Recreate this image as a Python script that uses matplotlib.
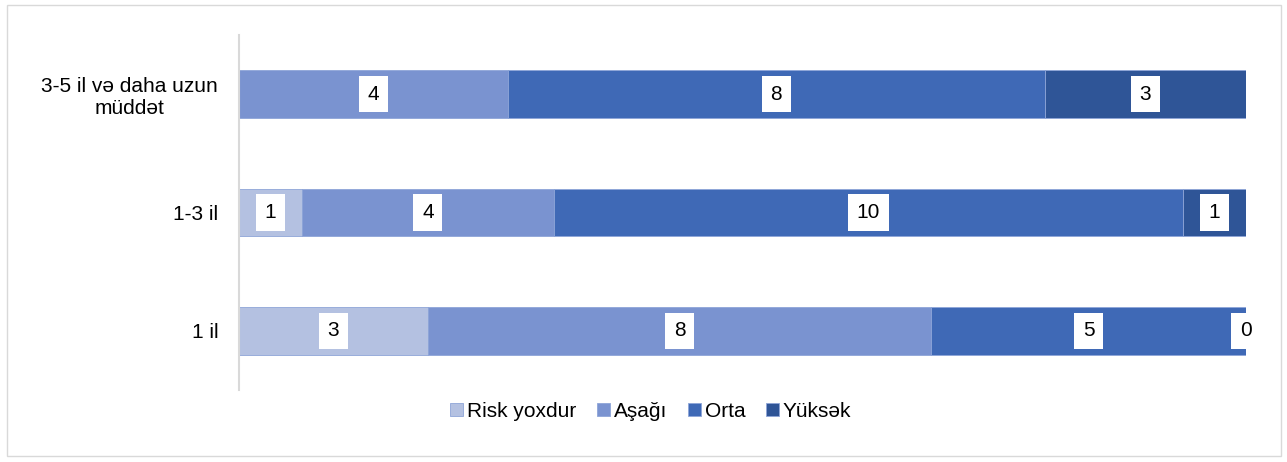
import matplotlib.pyplot as plt
from matplotlib.patches import Rectangle

categories = ["1 il", "1-3 il", "3-5 il və daha uzun\nmüddət"]
series = ["Risk yoxdur", "Aşağı", "Orta", "Yüksək"]
values = {
    "Risk yoxdur": [3, 1, 0],
    "Aşağı": [8, 4, 4],
    "Orta": [5, 10, 8],
    "Yüksək": [0, 1, 3],
}
colors = ["#B4C1E1", "#7A93D0", "#3F69B6", "#2F5597"]

plt.rcParams["font.family"] = ["Liberation Sans", "DejaVu Sans"]

fig = plt.figure(figsize=(12.87, 4.62), dpi=100)
ax = fig.add_axes([0.1857, 0.1558, 0.7825, 0.7684])

# light frame round the whole chart
fig.patches.append(Rectangle((0.0055, 0.012), 0.99, 0.977, transform=fig.transFigure,
                             fill=False, edgecolor="#D9D9D9", linewidth=1))

# 100% stacked: each row scaled to its own total
totals = [sum(values[s][i] for s in series) for i in range(len(categories))]

y = list(range(len(categories)))
left = [0.0] * len(categories)
for name, color in zip(series, colors):
    vals = values[name]
    shares = [100 * v / t for v, t in zip(vals, totals)]
    ax.barh(y, shares, left=left, height=0.405, color=color,
            edgecolor="#8EA5D8", linewidth=0.6, label=name)
    for i, v in enumerate(vals):
        if name == "Risk yoxdur" and v == 0:
            continue
        ax.text(left[i] + shares[i] / 2, y[i], str(v), ha="center", va="center", fontsize=15,
                bbox=dict(facecolor="white", edgecolor="none", boxstyle="square,pad=0.42"))
    left = [a + b for a, b in zip(left, shares)]

ax.set_xlim(0, 100)
ax.set_ylim(-0.5, 2.5)
ax.set_yticks(y)
ax.set_yticklabels(categories, fontsize=15, ha="right", multialignment="center")
ax.tick_params(axis="y", length=0, pad=15)
ax.set_xticks([])
for s in ["top", "right", "bottom"]:
    ax.spines[s].set_visible(False)
ax.spines["left"].set_color("#D9D9D9")
ax.spines["left"].set_linewidth(1.5)

ax.legend(loc="upper center", bbox_to_anchor=(0.409, 0.02), ncol=4, frameon=False,
          fontsize=15, handlelength=0.6, handleheight=0.6, handletextpad=0.2,
          columnspacing=1.0)

fig.savefig("out.png", dpi=100)
